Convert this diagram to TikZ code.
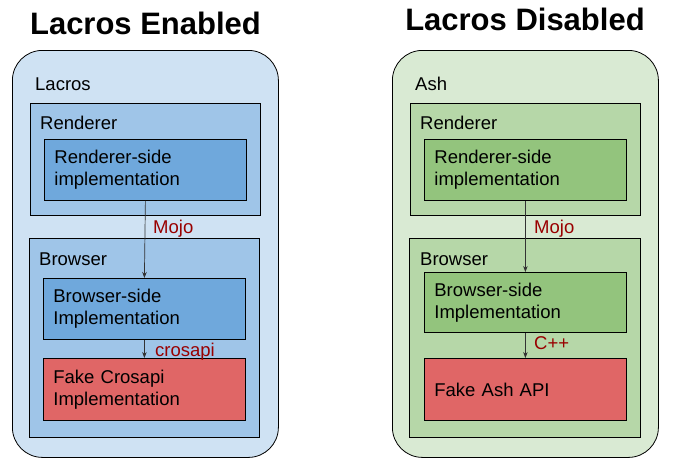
\documentclass[tikz,border=0pt]{standalone}
\usepackage{fontspec}
\setmainfont{Liberation Sans}
\usetikzlibrary{positioning,arrows.meta}
\definecolor{paleblue}{HTML}{CFE2F3}
\definecolor{midblue}{HTML}{9FC5E8}
\definecolor{deepblue}{HTML}{6FA8DC}
\definecolor{palegreen}{HTML}{D9EAD3}
\definecolor{midgreen}{HTML}{B6D7A8}
\definecolor{deepgreen}{HTML}{93C47D}
\definecolor{fakered}{HTML}{E06666}
\definecolor{viared}{HTML}{990000}
\newcommand{\bodyfont}{\fontsize{18.5}{22}\selectfont}
\newcommand{\titlefont}{\fontsize{31}{36}\selectfont\bfseries}

\begin{document}
\begin{tikzpicture}[x=1pt,y=-1pt,
    box/.style={draw=black,line width=0.8pt,anchor=north west,inner sep=0pt},
    impl/.style={box,text width=182pt,inner xsep=10pt,align=left,font=\bodyfont,minimum height=61pt},
    lbl/.style={anchor=base west,font=\bodyfont,inner sep=0pt},
    via/.style={lbl,text=viared},
    heading/.style={anchor=base,font=\titlefont,inner sep=0pt},
    link/.style={-{Stealth[length=6pt,width=4.5pt]},line width=0.7pt,draw=black!80}]
  \useasboundingbox (0,0) rectangle (680,469);

  % lacros enabled
  \node[heading] (entitle) at (145.5,34) {Lacros Enabled};
  \node[box,fill=paleblue,rounded corners=30pt,minimum width=266pt,minimum height=407pt] (lacros) at (12,50) {};
  \node[lbl] (lacroslbl) at (35,90) {Lacros};
  \node[box,fill=midblue,minimum width=230pt,minimum height=112pt] (lrend) at (30,103) {};
  \node[lbl] (lrendlbl) at (40,129) {Renderer};
  \node[impl,fill=deepblue] (lrimpl) at (44,139) {Renderer-side\\implementation};
  \node[box,fill=midblue,minimum width=230pt,minimum height=199pt] (lbrow) at (29,238) {};
  \node[lbl] (lbrowlbl) at (39,265) {Browser};
  \node[impl,fill=deepblue] (lbimpl) at (43,278) {Browser-side\\Implementation};
  \node[impl,fill=fakered,minimum height=62pt] (lfake) at (43,358) {Fake Crosapi\\Implementation};
  \draw[link] (lrimpl.south) -- (lbimpl.north);
  \draw[link] (lbimpl.south) -- (lfake.north);
  \node[via] (lmojo) at (153,233) {Mojo};
  \node[via] (lcros) at (155,356) {crosapi};

  % lacros disabled
  \node[heading] (distitle) at (525,30) {Lacros Disabled};
  \node[box,fill=palegreen,rounded corners=30pt,minimum width=266pt,minimum height=407pt] (ash) at (392,50) {};
  \node[lbl] (ashlbl) at (415,90) {Ash};
  \node[box,fill=midgreen,minimum width=230pt,minimum height=112pt] (arend) at (410,103) {};
  \node[lbl] (arendlbl) at (420,129) {Renderer};
  \node[impl,fill=deepgreen] (arimpl) at (424,139) {Renderer-side\\implementation};
  \node[box,fill=midgreen,minimum width=231pt,minimum height=199pt] (abrow) at (409,238) {};
  \node[lbl] (abrowlbl) at (420,265) {Browser};
  \node[impl,fill=deepgreen,minimum height=60pt] (abimpl) at (424,272) {Browser-side\\Implementation};
  \node[impl,fill=fakered,minimum height=62pt] (afake) at (424,358) {Fake Ash API};
  \draw[link] (arimpl.south) -- (abimpl.north);
  \draw[link] (abimpl.south) -- (afake.north);
  \node[via] (amojo) at (534,233) {Mojo};
  \node[via] (acpp) at (534,349) {C++};
\end{tikzpicture}
\end{document}
